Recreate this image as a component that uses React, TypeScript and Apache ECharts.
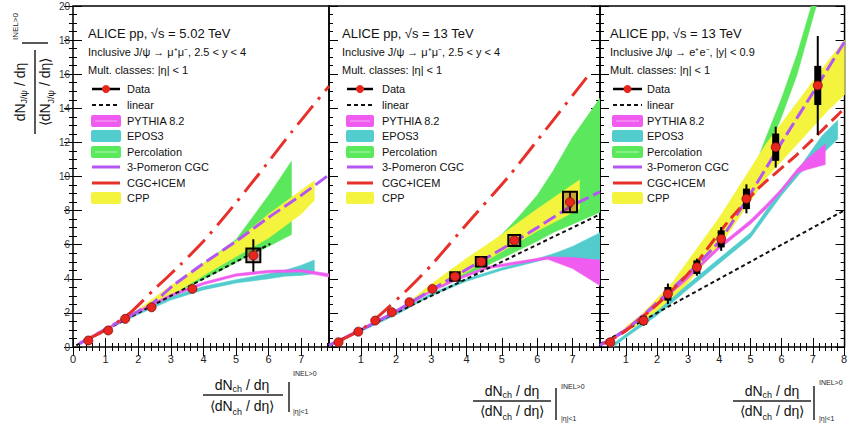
import React, { useEffect, useRef } from 'react';
import * as echarts from 'echarts';

const FONT = '"Liberation Sans", Arial, Helvetica, sans-serif';

// ---------------- Panel 1 : pp 5.02 TeV, forward ----------------
// data: [x, y, stat, syst]
const data1 = [[0.47, 0.38, 0.05, 0.05], [1.08, 0.97, 0.05, 0.06], [1.6, 1.65, 0.08, 0.1], [2.41, 2.33, 0.1, 0.12], [3.66, 3.41, 0.15, 0.18], [5.53, 5.37, 0.95, 0.4]];
const linear1 = [[0.1, 0.1], [6.05, 6.05]];
const cgcIcem1 = [[0.5, 0.5], [1, 1], [1.75, 2.0], [2.45, 3.3], [3.28, 4.8], [4, 6.2], [4.8, 8.0], [5.64, 10.0], [6.7, 12.6], [7.85, 15.3]];
const pomeron1 = [[0.2, 0.2], [1, 1.05], [2, 2.1], [2.4, 2.5], [3.07, 3.6], [4, 4.9], [5, 6.2], [6, 7.6], [7, 8.9], [7.85, 10.1]];
// bands: [x, low, high]
const cpp1 = [[0.3, 0.25, 0.35], [1, 0.95, 1.1], [2, 1.95, 2.2], [3, 3.0, 3.6], [4, 4.2, 4.9], [5, 5.3, 6.2], [6, 6.4, 7.8], [7, 7.8, 9.2], [7.4, 8.6, 9.75]];
const perc1 = [[2.6, 2.6, 2.7], [3.5, 3.5, 4.2], [4.5, 4.45, 5.6], [5, 4.95, 6.3], [5.5, 5.45, 7.6], [6, 5.9, 8.9], [6.7, 6.6, 10.9]];
const epos1 = [[0.2, 0.15, 0.25], [1, 0.95, 1.05], [2, 1.9, 2.05], [3, 2.75, 2.95], [4, 3.35, 3.55], [5, 3.75, 3.95], [6, 4.0, 4.3], [6.5, 4.15, 4.5], [7, 4.2, 4.8], [7.4, 4.3, 5.1]];
const pythia1 = [[0.2, 0.15, 0.3], [1, 0.95, 1.1], [2, 2.0, 2.15], [3, 2.95, 3.1], [4, 3.65, 3.8], [5, 4.15, 4.3], [6, 4.35, 4.5], [7, 4.4, 4.55], [7.85, 4.1, 4.3]];

// ---------------- Panel 2 : pp 13 TeV, forward ----------------
const data2 = [[0.37, 0.28, 0.03, 0.05], [0.93, 0.9, 0.03, 0.06], [1.41, 1.55, 0.04, 0.08], [1.88, 2.04, 0.05, 0.1], [2.38, 2.63, 0.06, 0.12], [3.03, 3.41, 0.08, 0.15], [3.67, 4.13, 0.1, 0.25], [4.41, 5.0, 0.12, 0.28], [5.35, 6.25, 0.15, 0.32], [6.93, 8.5, 0.6, 0.6]];
const linear2 = [[0.1, 0.1], [7.78, 7.78]];
const cgcIcem2 = [[0.3, 0.25], [1, 1.0], [1.5, 1.8], [2.34, 3.4], [3, 4.8], [4, 7.2], [5.23, 10.1], [6.3, 12.9], [7.4, 15.8]];
const pomeron2 = [[0.1, 0.1], [1, 1.0], [2, 2.1], [3, 3.35], [4, 4.55], [5, 5.75], [6, 7.0], [7, 8.3], [7.78, 9.1]];
const cpp2 = [[2.4, 2.6, 2.7], [3, 3.3, 3.7], [4, 4.4, 5.2], [5, 5.6, 6.6], [6, 6.8, 8.1], [7.2, 8.1, 9.8]];
const perc2 = [[3.3, 3.5, 3.6], [4, 4.2, 4.9], [5, 5.2, 6.6], [5.5, 5.7, 7.7], [6, 6.2, 8.9], [6.44, 6.7, 10.3], [7, 7.2, 12.3], [7.78, 7.9, 14.6]];
const epos2 = [[0.1, 0.05, 0.15], [1, 0.9, 1.0], [2, 1.88, 2.0], [3, 3.0, 3.15], [4, 3.85, 4.0], [5, 4.5, 4.65], [5.88, 4.95, 5.1], [6.5, 5.3, 5.5], [7, 5.2, 5.9], [7.78, 5.1, 6.7]];
const pythia2 = [[0.1, 0.05, 0.15], [1, 0.95, 1.1], [2, 2.0, 2.12], [3, 3.22, 3.36], [3.62, 3.82, 3.96], [4.57, 4.58, 4.72], [5.88, 5.02, 5.16], [6.3, 5.15, 5.3], [7, 4.6, 5.25], [7.78, 3.6, 5.1]];

// ---------------- Panel 3 : pp 13 TeV, mid-rapidity ----------------
const data3 = [[0.5, 0.28, 0.1, 0.08], [1.57, 1.55, 0.3, 0.25], [2.35, 3.12, 0.6, 0.4], [3.28, 4.68, 0.5, 0.4], [4.06, 6.34, 0.7, 0.5], [4.87, 8.69, 0.85, 0.6], [5.81, 11.72, 1.2, 0.8], [7.16, 15.34, 2.9, 1.15]];
const linear3 = [[0.17, 0.17], [8.02, 8.02]];
const cgcIcem3 = [[0.3, 0.2], [1, 0.95], [2, 2.5], [3, 4.3], [4, 6.7], [4.3, 7.4], [5.25, 9.3], [6.5, 11.3], [7.74, 13.5], [8.02, 14.0]];
const pomeron3 = [[0.17, 0.1], [1, 1.0], [2, 2.6], [3, 4.3], [4, 6.2], [5, 9.0], [5.67, 11.0], [6, 12.0], [7, 14.9], [8.02, 17.9]];
const cpp3 = [[1.0, 0.9, 1.2], [1.5, 1.4, 1.9], [2.5, 2.7, 3.8], [4, 5.9, 7.6], [5.5, 9.9, 11.9], [7.5, 13.9, 16.8], [8.02, 14.8, 18.0]];
const perc3 = [[4.5, 7.6, 8.2], [5.15, 9.9, 10.6], [5.5, 11.3, 12.3], [6, 13.5, 14.6], [6.5, 16.0, 17.2], [7.05, 19.6, 20.6], [7.2, 20.5, 21.5]];
const epos3 = [[0.6, 0.0, 0.2], [1, 0.55, 0.75], [2, 1.85, 2.1], [3, 3.4, 3.7], [4, 4.9, 5.2], [5, 6.4, 6.7], [6, 8.9, 9.3], [6.6, 10.2, 10.6], [7.3, 11.3, 12.4], [7.8, 12.2, 13.3]];
const pythia3 = [[0.4, 0.2, 0.4], [1, 0.9, 1.1], [2, 2.4, 2.6], [3, 4.0, 4.2], [4, 5.75, 5.95], [5, 7.2, 7.45], [5.5, 8.1, 8.35], [6, 9.1, 9.3], [6.5, 10.2, 10.45], [6.8, 10.4, 11.0], [7.4, 10.7, 11.9]];

// ---------------- Tick labels / texts ----------------
const xTickLabels = [[0, 1, 2, 3, 4, 5, 6, 7], [1, 2, 3, 4, 5, 6, 7], [1, 2, 3, 4, 5, 6, 7, 8]];
const yTickLabels = [0, 2, 4, 6, 8, 10, 12, 14, 16, 18, 20];
const panelTitles = [
  ['ALICE pp, √s = 5.02 TeV', 'Inclusive J/ψ → μ⁺μ⁻, 2.5 < y < 4', 'Mult. classes: |η| < 1'],
  ['ALICE pp, √s = 13 TeV', 'Inclusive J/ψ → μ⁺μ⁻, 2.5 < y < 4', 'Mult. classes: |η| < 1'],
  ['ALICE pp, √s = 13 TeV', 'Inclusive J/ψ → e⁺e⁻, |y| < 0.9', 'Mult. classes: |η| < 1'],
];
const legendNames = ['Data', 'linear', 'PYTHIA 8.2', 'EPOS3', 'Percolation', '3-Pomeron CGC', 'CGC+ICEM', 'CPP'];

const PANELS = [
  { data: data1, linear: linear1, cgc: cgcIcem1, pom: pomeron1, cpp: cpp1, perc: perc1, epos: epos1, pythia: pythia1 },
  { data: data2, linear: linear2, cgc: cgcIcem2, pom: pomeron2, cpp: cpp2, perc: perc2, epos: epos2, pythia: pythia2 },
  { data: data3, linear: linear3, cgc: cgcIcem3, pom: pomeron3, cpp: cpp3, perc: perc3, epos: epos3, pythia: pythia3 },
];

// ---------------- styles / layout ----------------
const C = {
  red: '#e8302a', purple: '#b456f2', green: '#5ce85c', yellow: '#f4f43e', cyan: '#52cccc', magenta: '#ef5cef', black: '#000',
};
const GRIDS = [
  { left: 73, top: 6, width: 256, height: 341 },
  { left: 329, top: 6, width: 271, height: 341 },
  { left: 600, top: 6, width: 252, height: 341 },
];
const XR = [[0, 7.85], [0.1, 7.78], [0.17, 8.02]];
const BOX_MAX_HALF_PX = [7, 7, 3.5];
const BOX_FILLED = [false, false, true];
const LEGEND_POS = [
  { tx: 88, s1: 92, s2: 120, lx: 127 },
  { tx: 342, s1: 347, s2: 373, lx: 382 },
  { tx: 610, s1: 613, s2: 642, lx: 647 },
];
const ROWS = [33, 52, 70, 89, 105, 121, 136, 152, 167, 183, 198];

const steps = (a: number, b: number, s: number) => {
  const r: number[] = [];
  for (let v = a; v <= b + 1e-9; v += s) r.push(Math.round(v * 100) / 100);
  return r;
};

let _ctx: CanvasRenderingContext2D | null = null;
const tw = (t: string, s: number) => {
  if (!_ctx) _ctx = document.createElement('canvas').getContext('2d');
  if (!_ctx) return t.length * s * 0.55;
  _ctx.font = `${s}px ${FONT}`;
  return _ctx.measureText(t).width;
};
const seq = (parts: [string, number, number][], cx: number, cy: number, fill = '#111') => {
  const total = parts.reduce((a, p) => a + tw(p[0], p[1]), 0);
  let x = cx - total / 2;
  return parts.map((p) => {
    const el = {
      type: 'text', x, y: cy + p[2],
      style: { text: p[0], font: `${p[1]}px ${FONT}`, fill, textAlign: 'left', textVerticalAlign: 'middle' },
    };
    x += tw(p[0], p[1]);
    return el;
  });
};

const bandRender = (band: number[][], color: string) => (params: any, api: any) => {
  if (params.dataIndex !== 0) return null;
  const pts: number[][] = [];
  band.forEach((b) => pts.push(api.coord([b[0], b[2]])));
  for (let i = band.length - 1; i >= 0; i--) pts.push(api.coord([band[i][0], band[i][1]]));
  return { type: 'polygon', shape: { points: pts }, style: { fill: color, stroke: color, lineWidth: 0.5 } };
};

const dataRender = (maxHalf: number, filled: boolean) => (params: any, api: any) => {
  const x = api.value(0), y = api.value(1), st = api.value(2), sy = api.value(3);
  const c = api.coord([x, y]);
  const t = api.coord([x, y + st]);
  const b = api.coord([x, y - st]);
  const bt = api.coord([x, y + sy]);
  const bb = api.coord([x, y - sy]);
  const halfH = (bb[1] - bt[1]) / 2;
  const halfW = filled ? maxHalf : Math.min(maxHalf, halfH + 0.5);
  const kids: any[] = [
    { type: 'line', shape: { x1: c[0], y1: t[1], x2: c[0], y2: b[1] }, style: { stroke: '#000', lineWidth: 2 } },
  ];
  if (halfH > 3.5 || filled) {
    kids.push({
      type: 'rect', shape: { x: c[0] - halfW, y: bt[1], width: halfW * 2, height: bb[1] - bt[1] },
      style: filled ? { fill: '#000' } : { fill: 'rgba(120,20,20,0.35)', stroke: '#000', lineWidth: 2 },
    });
  }
  kids.push({ type: 'circle', shape: { cx: c[0], cy: c[1], r: 4.5 }, style: { fill: '#e8261e', stroke: '#7a1010', lineWidth: 0.8 } });
  return { type: 'group', children: kids };
};

function buildOption() {
  const xAxis: any[] = [];
  const yAxis: any[] = [];
  const series: any[] = [];
  const tickStyle = { color: '#000', width: 1 };

  GRIDS.forEach((_, g) => {
    const [mn, mx] = XR[g];
    const majors = steps(Math.ceil(mn), Math.floor(mx), 1);
    const minors = steps(Math.ceil(mn * 5) / 5, mx, 0.2).filter((v) => v >= mn && Math.abs(v - Math.round(v)) > 1e-6);
    const xa = (pos: string, vals: number[], len: number, labels: number[] | null) => ({
      type: 'value', gridIndex: g, min: mn, max: mx, position: pos,
      axisLine: { show: false }, splitLine: { show: false },
      axisTick: { show: true, inside: true, length: len, customValues: vals, lineStyle: tickStyle },
      axisLabel: labels ? { show: true, customValues: labels, fontSize: 11, color: '#222', fontFamily: FONT, margin: 6 } : { show: false },
    });
    xAxis.push(xa('bottom', majors, 9, xTickLabels[g]));
    xAxis.push(xa('bottom', minors, 4, null));
    xAxis.push(xa('top', majors, 9, null));
    xAxis.push(xa('top', minors, 4, null));

    const yMinors = steps(0, 20, 0.5).filter((v) => Math.abs(v / 2 - Math.round(v / 2)) > 1e-6);
    const ya = (pos: string, vals: number[], len: number, labels: number[] | null) => ({
      type: 'value', gridIndex: g, min: 0, max: 20, position: pos,
      axisLine: { show: false }, splitLine: { show: false },
      axisTick: { show: true, inside: true, length: len, customValues: vals, lineStyle: tickStyle },
      axisLabel: labels ? { show: true, customValues: labels, fontSize: 10, color: '#333', fontFamily: FONT, margin: 3 } : { show: false },
    });
    yAxis.push(ya('left', yTickLabels, 9, g === 0 ? yTickLabels : null));
    yAxis.push(ya('left', yMinors, 4, null));
    yAxis.push(ya('right', yTickLabels, 9, null));
    yAxis.push(ya('right', yMinors, 4, null));

    const P = PANELS[g];
    const ax = { xAxisIndex: g * 4, yAxisIndex: g * 4 };
    const band = (name: string, d: number[][], color: string, z: number) => ({
      name, type: 'custom', ...ax, data: d, clip: true, z, silent: true, renderItem: bandRender(d, color),
    });
    series.push(band('Percolation', P.perc, C.green, 2));
    series.push(band('CPP', P.cpp, C.yellow, 3));
    series.push(band('EPOS3', P.epos, C.cyan, 4));
    series.push(band('PYTHIA 8.2', P.pythia, C.magenta, 5));
    series.push({
      name: 'linear', type: 'line', ...ax, data: P.linear, showSymbol: false, symbol: 'none', z: 6, silent: true,
      lineStyle: { color: '#111', width: 2, type: [4, 3] },
    });
    series.push({
      name: '3-Pomeron CGC', type: 'line', ...ax, data: P.pom, showSymbol: false, symbol: 'none', z: 7, silent: true, smooth: 0.2,
      lineStyle: { color: C.purple, width: 3, type: [14, 5] },
    });
    series.push({
      name: 'CGC+ICEM', type: 'line', ...ax, data: P.cgc, showSymbol: false, symbol: 'none', z: 8, silent: true, smooth: 0.2,
      lineStyle: { color: C.red, width: 3, type: g === 2 ? [14, 6] : [24, 8, 3, 8] },
    });
    series.push({
      name: 'Data', type: 'custom', ...ax, data: P.data, clip: false, z: 10, silent: true,
      renderItem: dataRender(BOX_MAX_HALF_PX[g], BOX_FILLED[g]),
    });
  });

  // ---- legends and texts ----
  const graphic: any[] = [];
  LEGEND_POS.forEach((L, g) => {
    panelTitles[g].forEach((t, i) => {
      graphic.push({
        type: 'text', x: L.tx, y: ROWS[i], z: 50,
        style: { text: t, font: `${i === 0 ? 13 : 11}px ${FONT}`, fill: '#111', textAlign: 'left', textVerticalAlign: 'middle' },
      });
    });
    legendNames.forEach((n, i) => {
      const y = ROWS[i + 3];
      graphic.push({
        type: 'text', x: L.lx, y, z: 50,
        style: { text: n, font: `11px ${FONT}`, fill: '#111', textAlign: 'left', textVerticalAlign: 'middle' },
      });
      const rect = (color: string, inner?: string) => {
        graphic.push({ type: 'rect', z: 50, shape: { x: L.s1 - 1, y: y - 6, width: L.s2 - L.s1 + 2, height: 12, r: 2 }, style: { fill: color } });
        if (inner) graphic.push({ type: 'line', z: 51, shape: { x1: L.s1 + 3, y1: y, x2: L.s2 - 3, y2: y }, style: { stroke: inner, lineWidth: 1 } });
      };
      if (i === 0) {
        graphic.push({ type: 'line', z: 50, shape: { x1: L.s1, y1: y, x2: L.s2, y2: y }, style: { stroke: '#000', lineWidth: 2.5 } });
        graphic.push({ type: 'circle', z: 51, shape: { cx: (L.s1 + L.s2) / 2, cy: y, r: 4 }, style: { fill: '#e8261e' } });
      } else if (i === 1) {
        graphic.push({ type: 'line', z: 50, shape: { x1: L.s1, y1: y, x2: L.s2, y2: y }, style: { stroke: '#111', lineWidth: 2, lineDash: [4, 3] } });
      } else if (i === 2) rect(C.magenta, '#f8b0f8');
      else if (i === 3) rect(C.cyan);
      else if (i === 4) rect(C.green, '#b0f6b0');
      else if (i === 5) graphic.push({ type: 'line', z: 50, shape: { x1: L.s1, y1: y, x2: L.s2, y2: y }, style: { stroke: C.purple, lineWidth: 3 } });
      else if (i === 6) graphic.push({ type: 'line', z: 50, shape: { x1: L.s1, y1: y, x2: L.s2, y2: y }, style: { stroke: C.red, lineWidth: 3 } });
      else rect(C.yellow);
    });
  });

  // x-axis titles
  const XT = [
    { cx: 242, ny: 385, ly: 395, lx1: 203, lx2: 283, dy: 406, bx: 289, b1: 382, b2: 412, sx: 293, supY: 373, subY: 411 },
    { cx: 512, ny: 391, ly: 401, lx1: 473, lx2: 551, dy: 411, bx: 556, b1: 388, b2: 420, sx: 561, supY: 386, subY: 418 },
    { cx: 772, ny: 391, ly: 401, lx1: 733, lx2: 811, dy: 411, bx: 814, b1: 386, b2: 420, sx: 819, supY: 382, subY: 418 },
  ];
  XT.forEach((T) => {
    seq([['dN', 14, 0], ['ch', 9, 4], [' / dη', 14, 0]], T.cx, T.ny).forEach((e) => graphic.push(e));
    graphic.push({ type: 'line', shape: { x1: T.lx1, y1: T.ly, x2: T.lx2, y2: T.ly }, style: { stroke: '#222', lineWidth: 1.5 } });
    seq([['⟨dN', 14, 0], ['ch', 9, 6], [' / dη⟩', 14, 0]], T.cx, T.dy).forEach((e) => graphic.push(e));
    graphic.push({ type: 'line', shape: { x1: T.bx, y1: T.b1, x2: T.bx, y2: T.b2 }, style: { stroke: '#222', lineWidth: 1.5 } });
    graphic.push({ type: 'text', x: T.sx, y: T.supY, style: { text: 'INEL>0', font: `7px ${FONT}`, fill: '#222', textAlign: 'left', textVerticalAlign: 'middle' } });
    graphic.push({ type: 'text', x: T.sx, y: T.subY, style: { text: '|η|<1', font: `7px ${FONT}`, fill: '#222', textAlign: 'left', textVerticalAlign: 'middle' } });
  });

  // y-axis title (rotated)
  const yChildren: any[] = [];
  seq([['dN', 14, 0], ['J/ψ', 9, 4], [' / dη', 14, 0]], 0, -15).forEach((e) => yChildren.push(e));
  yChildren.push({ type: 'line', shape: { x1: -42, y1: 0, x2: 42, y2: 0 }, style: { stroke: '#222', lineWidth: 1.5 } });
  seq([['⟨dN', 14, 0], ['J/ψ', 9, 6], [' / dη⟩', 14, 0]], 0, 10).forEach((e) => yChildren.push(e));
  yChildren.push({ type: 'line', shape: { x1: 49, y1: -13, x2: 49, y2: 13 }, style: { stroke: '#222', lineWidth: 1.5 } });
  yChildren.push({ type: 'text', x: 52, y: -20, style: { text: 'INEL>0', font: `8px ${FONT}`, fill: '#222', textAlign: 'left', textVerticalAlign: 'middle' } });
  graphic.push({ type: 'group', x: 35, y: 92, rotation: Math.PI / 2, children: yChildren });

  return {
    animation: false,
    backgroundColor: '#fff',
    grid: GRIDS.map((gr) => ({ ...gr, show: true, borderColor: '#000', borderWidth: 1.5, backgroundColor: 'transparent' })),
    xAxis, yAxis, series, graphic,
  };
}

export default function App() {
  const ref = useRef<HTMLDivElement>(null);
  useEffect(() => {
    if (!ref.current) return;
    const chart = echarts.init(ref.current, undefined, { renderer: 'svg' });
    chart.setOption(buildOption() as any);
    return () => chart.dispose();
  }, []);
  return <div ref={ref} style={{ position: 'fixed', left: 0, top: 0, width: 850, height: 425, background: '#fff' }} />;
}
